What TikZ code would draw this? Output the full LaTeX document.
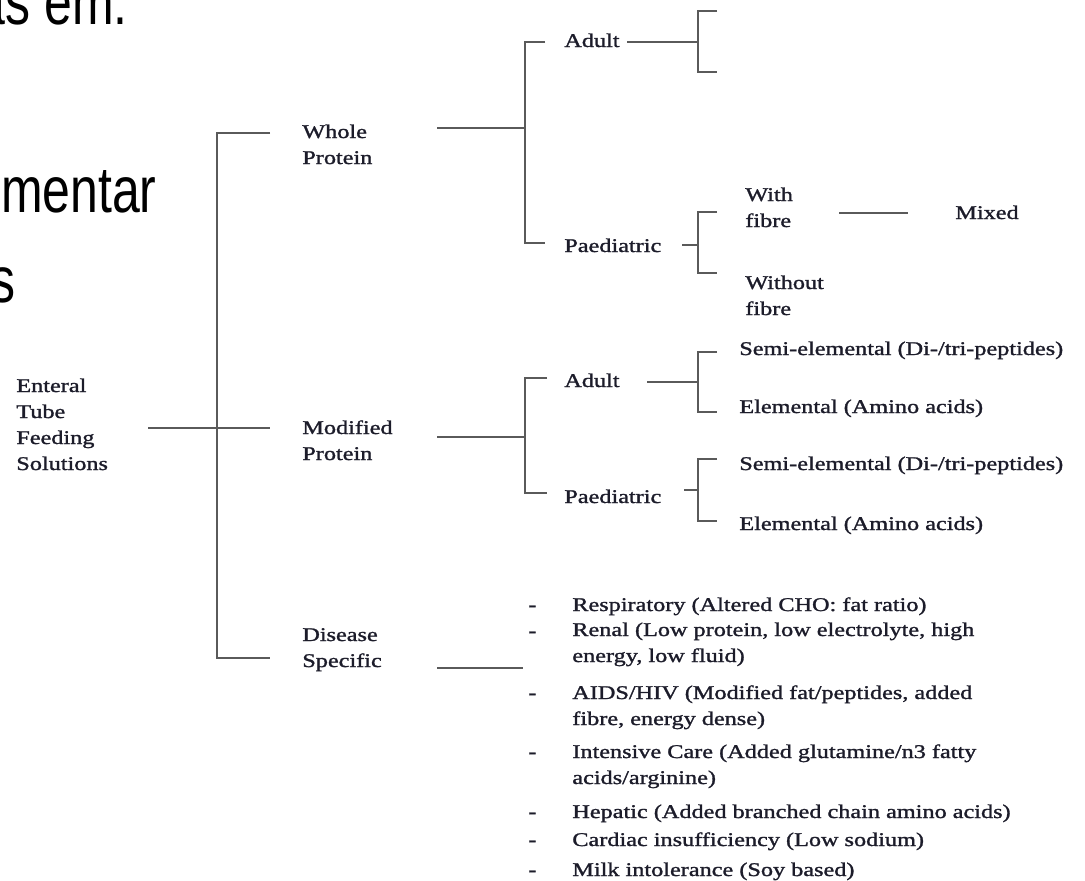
\documentclass[tikz,border=0pt]{standalone}
\usepackage{fontspec}
\usepackage{graphicx}
\setmainfont{Liberation Serif}
\newfontfamily\diagfont{Liberation Serif}[RawFeature={embolden=1.2}]
\newfontfamily\slidefont{Liberation Sans}
\definecolor{ink}{RGB}{28,28,42}
\definecolor{linegray}{RGB}{90,90,90}
% text in the screenshot is stretched, wide in the tree, tall on the slide
\def\vfac{1}
\newcommand{\tl}[1]{\scalebox{1}[\vfac]{#1}}
\tikzset{
  lbl/.style={anchor=base west, inner sep=0pt, text=ink, align=left,
    font=\diagfont\fontsize{13.8}{14.8}\selectfont\def\vfac{0.8}},
  slide/.style={anchor=base east, inner sep=0pt,
    font=\slidefont\fontsize{28.45}{34}\selectfont\def\vfac{1.3}},
  branch/.style={draw=linegray, line width=1.2pt}
}
\begin{document}
\begin{tikzpicture}[x=0.02cm, y=-0.02cm]
\useasboundingbox (0,0) rectangle (1085,880);
\clip (0,0) rectangle (1085,880);
% slide text, cut at the left edge
\node[slide] (slide1) at (128,24) {\tl{as em:}};
\node[slide] (slide2) at (157,212) {\tl{mentar}};
\node[slide] (slide3) at (16,302) {\tl{s}};
% labels (base = last line)
\node[lbl] (ent) at (16,470) {\tl{Enteral}\\\tl{Tube}\\\tl{Feeding}\\\tl{Solutions}};
\node[lbl] (wp) at (302,164) {\tl{Whole}\\\tl{Protein}};
\node[lbl] (mp) at (302,460) {\tl{Modified}\\\tl{Protein}};
\node[lbl] (ds) at (302,667) {\tl{Disease}\\\tl{Specific}};
\node[lbl] (wpa) at (564,47) {\tl{Adult}};
\node[lbl] (wpp) at (564,252) {\tl{Paediatric}};
\node[lbl] (fib) at (745,227) {\tl{With}\\\tl{fibre}};
\node[lbl] (nofib) at (745,315) {\tl{Without}\\\tl{fibre}};
\node[lbl] (mix) at (955,219) {\tl{Mixed}};
\node[lbl] (mpa) at (564,387) {\tl{Adult}};
\node[lbl] (mpp) at (564,503) {\tl{Paediatric}};
\node[lbl] (mpa1) at (739,355) {\tl{Semi-elemental (Di-/tri-peptides)}};
\node[lbl] (mpa2) at (739,413) {\tl{Elemental (Amino acids)}};
\node[lbl] (mpp1) at (739,470) {\tl{Semi-elemental (Di-/tri-peptides)}};
\node[lbl] (mpp2) at (739,530) {\tl{Elemental (Amino acids)}};
% disease specific list
\node[lbl] (d1) at (572,611) {\tl{Respiratory (Altered CHO: fat ratio)}};
\node[lbl] (d2) at (572,662) {\tl{Renal (Low protein, low electrolyte, high}\\\tl{energy, low fluid)}};
\node[lbl] (d3) at (572,725) {\tl{AIDS/HIV (Modified fat/peptides, added}\\\tl{fibre, energy dense)}};
\node[lbl] (d4) at (572,784) {\tl{Intensive Care (Added glutamine/n3 fatty}\\\tl{acids/arginine)}};
\node[lbl] (d5) at (572,818) {\tl{Hepatic (Added branched chain amino acids)}};
\node[lbl] (d6) at (572,846) {\tl{Cardiac insufficiency (Low sodium)}};
\node[lbl] (d7) at (572,876) {\tl{Milk intolerance (Soy based)}};
\foreach \y [count=\i] in {611,637,699,758,818,846,876}
  \node[lbl] (dash\i) at (528,\y) {\tl{-}};
% root bracket
\coordinate (ent-out) at (148,428);
\coordinate (mp-in) at (270,428);
\coordinate (wp-in) at (270,133);
\coordinate (ds-in) at (270,658);
\draw[branch] (ent-out) -- (mp-in);
\draw[branch] (wp-in) -- ++(-53,0) |- (ds-in);
% whole protein
\coordinate (wp-out) at (437,128);
\coordinate (wp-j) at (525,128);
\coordinate (wpa-in) at (545,42);
\coordinate (wpp-in) at (545,243);
\draw[branch] (wp-out) -- (wp-j);
\draw[branch] (wpa-in) -- ++(-20,0) |- (wpp-in);
\coordinate (wpa-out) at (627,42);
\coordinate (wpa-j) at (698,42);
\coordinate (wpa-t) at (717,11);
\coordinate (wpa-b) at (717,72);
\draw[branch] (wpa-out) -- (wpa-j);
\draw[branch] (wpa-t) -- ++(-19,0) |- (wpa-b);
\coordinate (wpp-out) at (682,245);
\coordinate (wpp-j) at (698,245);
\coordinate (fib-in) at (717,212);
\coordinate (nofib-in) at (717,273);
\draw[branch] (wpp-out) -- (wpp-j);
\draw[branch] (fib-in) -- ++(-19,0) |- (nofib-in);
\coordinate (fib-out) at (839,213);
\coordinate (mix-in) at (908,213);
\draw[branch] (fib-out) -- (mix-in);
% modified protein
\coordinate (mp-out) at (437,437);
\coordinate (mp-j) at (525,437);
\coordinate (mpa-in) at (547,378);
\coordinate (mpp-in) at (547,493);
\draw[branch] (mp-out) -- (mp-j);
\draw[branch] (mpa-in) -- ++(-22,0) |- (mpp-in);
\coordinate (mpa-out) at (647,382);
\coordinate (mpa-j) at (698,382);
\coordinate (mpa1-in) at (717,352);
\coordinate (mpa2-in) at (717,412);
\draw[branch] (mpa-out) -- (mpa-j);
\draw[branch] (mpa1-in) -- ++(-19,0) |- (mpa2-in);
\coordinate (mpp-out) at (684,490);
\coordinate (mpp-j) at (698,490);
\coordinate (mpp1-in) at (717,459);
\coordinate (mpp2-in) at (717,521);
\draw[branch] (mpp-out) -- (mpp-j);
\draw[branch] (mpp1-in) -- ++(-19,0) |- (mpp2-in);
% disease specific
\coordinate (ds-out) at (437,668);
\coordinate (ds-list) at (523,668);
\draw[branch] (ds-out) -- (ds-list);
\end{tikzpicture}
\end{document}
